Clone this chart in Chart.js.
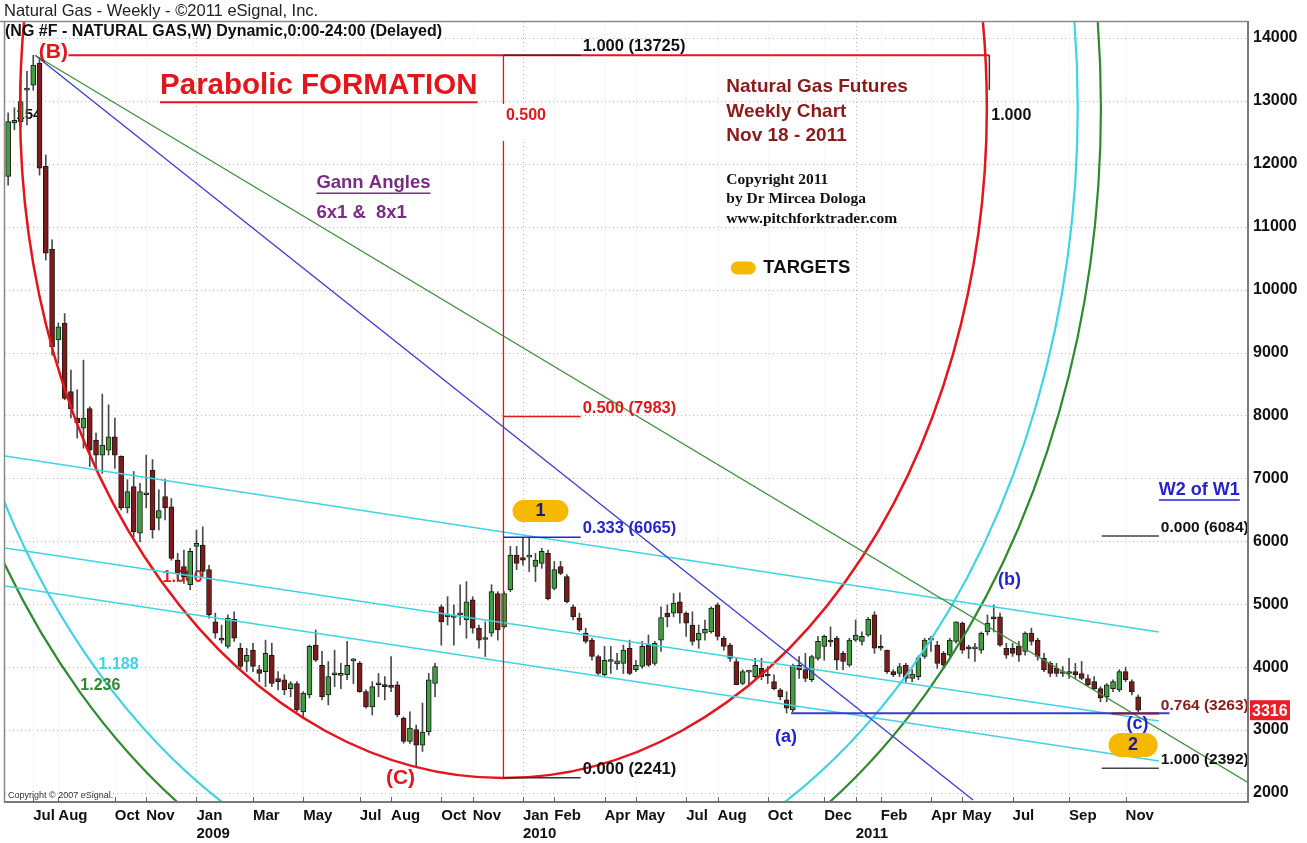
<!DOCTYPE html>
<html>
<head>
<meta charset="utf-8">
<script src="https://cdn.jsdelivr.net/npm/chart.js@4.4.0/dist/chart.umd.min.js"></script>
<style>
html,body{margin:0;padding:0;background:#fff;}
#wrap{width:1307px;height:843px;position:relative;}
</style>
</head>
<body>
<div id="wrap"><canvas id="c"></canvas></div>
<script>
// ---------- DATA ----------
const firstWeek = '2008-06-06';   // Friday of first weekly bar
const totalWeeks = 198;           // categories on the time axis (incl. blank space on right)

const open = [11800,12650,12670,13170,13250,13600,11960,10640,9200,9470,
8380,7960,7800,8110,7610,7370,7450,7660,7350,6530,
6870,6130,6740,7130,6370,6710,6550,5700,5600,5310,
5920,5940,5550,4720,4460,4330,4760,4300,4090,4270,
3960,3930,4190,3820,3800,3660,3740,3290,3560,4350,
4030,3560,3880,3870,3880,4100,4060,3610,3370,3720,
3720,3690,3720,3190,2820,3010,2760,2970,3740,4960,
4800,4790,4830,4750,5070,4620,4440,4540,5170,4640,
5230,5780,5740,5750,5600,5650,5810,5250,5600,5440,
4960,4780,4540,4430,4170,3880,4090,4050,4060,4300,
3960,4010,4350,4060,4430,4860,4860,5040,4860,4670,
4430,4540,4560,4990,4460,4350,4090,3740,3920,3850,
3980,3880,3770,3640,3480,3320,4030,3960,3800,4140,
4330,4410,4460,4220,4030,4430,4410,4510,4830,4330,
4270,3930,3900,4030,3820,3850,4170,4430,4350,4220,
4190,4410,4700,4300,4290,4270,4560,4780,4800,4300,
4300,4330,4250,4540,4430,4140,4060,3980,3930,3900,
3930,3900,3820,3770,3660,3530,3660,3640,3930,3770,
3530];
const high = [12810,12890,13330,13470,13725,13690,12140,10790,9470,9620,
8720,8410,8880,8140,7720,8340,8170,7960,7360,6980,
7110,6920,7370,7300,6820,6990,6680,5810,5860,5890,
6180,6230,5620,4860,4670,4830,4880,4380,4300,4380,
4030,4430,4380,3930,3880,3770,3770,3610,4350,4590,
4250,4090,4270,4060,4410,4140,4090,3640,3770,3900,
3850,4170,3770,3210,3290,3080,3430,3900,4060,4990,
5120,4990,5310,5360,5120,4670,4720,5310,5200,5200,
5920,5920,6050,6065,5810,5890,5860,5680,5680,5470,
4990,4860,4620,4460,4190,4330,4330,4220,4350,4430,
4110,4410,4510,4410,4960,4990,5170,5180,4880,4880,
4670,4750,4960,5020,4490,4380,4140,3960,3940,4140,
4140,4010,3880,3660,3610,4050,4170,4220,4190,4490,
4510,4640,4490,4250,4460,4750,4560,4790,4880,4510,
4270,3960,4060,4060,3960,4180,4460,4490,4410,4250,
4460,4720,4720,4350,4380,4560,4830,4990,4860,4380,
4380,4410,4560,4620,4460,4220,4090,4060,4010,4140,
4060,4090,3880,3850,3690,3740,3800,3960,4000,3800,
3560];
const low = [11660,12540,12590,12620,13170,11820,10470,8960,8830,8250,
7960,7640,7480,7190,7130,7080,7370,7160,6500,6450,
6070,5990,6530,6050,6180,6340,5700,5360,5330,5230,
5440,5440,4780,4460,4380,4300,4410,3960,3930,3930,
3770,3690,3690,3640,3560,3530,3290,3210,3510,4090,
3480,3400,3690,3660,3800,3740,3600,3350,3240,3530,
3480,3610,3210,2790,2790,2420,2660,2920,3530,4350,
4670,4350,4670,4460,4540,4300,4170,4490,4430,4620,
5200,5550,5620,5520,5360,5570,5070,5230,5470,5020,
4750,4570,4380,4110,3880,3850,3900,3960,3900,3880,
3930,3980,4010,4030,4250,4640,4800,4700,4490,4350,
4300,4430,4540,4430,4270,4090,3720,3720,3720,3820,
3800,3740,3640,3480,3270,3290,3820,3770,3770,4110,
4110,4330,3960,3960,4010,4410,4350,4490,4220,4270,
3900,3850,3850,3770,3770,3800,4140,4250,3980,3980,
4170,4380,4220,4140,4090,4220,4510,4560,4330,4140,
4170,4090,4190,4350,4110,3930,3850,3850,3850,3820,
3820,3800,3690,3640,3450,3450,3610,3610,3770,3560,
3290];
const close = [12670,12690,12990,13200,13570,11930,10580,9090,9410,8270,
8110,7880,7960,7450,7370,7530,7660,7370,6530,6790,
6150,6790,6760,6180,6490,6530,5730,5490,5440,5840,
5970,5520,4830,4540,4430,4780,4460,4010,4190,4010,
3900,4220,3740,3770,3640,3740,3320,3590,4330,4110,
3530,3850,3880,3880,4030,4120,3610,3370,3690,3720,
3690,3680,3240,2820,3030,2760,2970,3800,4010,4720,
4800,4800,4830,5040,4620,4430,4460,5200,4590,5170,
5780,5650,5700,5760,5700,5840,5090,5550,5490,5040,
4800,4590,4410,4170,3900,4110,4090,4100,4270,3900,
4030,4330,4030,4380,4790,4800,5020,4860,4700,4410,
4540,4600,4940,4490,4330,4140,3720,3930,3930,4030,
3850,3860,3660,3530,3350,4030,3960,3820,4170,4410,
4490,4400,4110,4090,4430,4510,4490,4760,4300,4300,
3930,3880,4010,3820,3890,4150,4430,4440,4060,4030,
4430,4720,4270,4290,4300,4540,4700,4770,4350,4190,
4220,4190,4540,4410,4170,3960,3900,3900,3900,3900,
3880,3820,3720,3660,3510,3720,3770,3930,3800,3610,
3316];

// month labels shown on the time axis (first weekly bar of each listed month)
const monthTicks = ['2008-07','2008-08','2008-10','2008-11','2009-01','2009-03','2009-05','2009-07','2009-08',
  '2009-10','2009-11','2010-01','2010-02','2010-04','2010-05','2010-07','2010-08','2010-10','2010-12',
  '2011-01','2011-02','2011-04','2011-05','2011-07','2011-09','2011-11'];
const yearOnlyTicks = ['2011-01'];
const monthNames = ['Jan','Feb','Mar','Apr','May','Jun','Jul','Aug','Sep','Oct','Nov','Dec'];
const priceTicks = [2000,3000,4000,5000,6000,7000,8000,9000,10000,11000,12000,13000,14000];

// drawing-tool anchors (week index, price)
const peakB = [4.3, 13725];
const gannEnds = [[153.7, 1889], [197.8, 2150]];
const channelLines = [[[-0.5, 7356], [183.3, 4559]], [[-0.5, 5894], [183.3, 3144]], [[-0.5, 5290], [183.3, 2509]]];
const ellipseCenter = [78.9, 12887];
const ellipseRadii = [77, 10649];
const ellipseRatios = [1, 1.188, 1.236];
const fibTimeWeeks = [78.9, 156.3];
const fibSpan = [78.9, 91.2];
const fibLevels = [['1.000', 13725], ['0.500', 7983], ['0.333', 6065], ['0.000', 2241]];
const w2Span = [174.2, 183.3];
const w2Levels = [['0.000', 6084], ['1.000', 2392]];
const retrace764 = ['0.764', 3263];
const lowA = [124.7, 185.0, 3267];
const lastPrice = 3316;

// ---------- BUILD ----------
const weeks = [];
{
  const d0 = new Date(firstWeek + 'T00:00:00Z').getTime();
  for (let i = 0; i < totalWeeks; i++) weeks.push(new Date(d0 + i * 7 * 86400000).toISOString().slice(0, 10));
}
const tickText = weeks.map(() => '');
const tickInfo = [];
monthTicks.forEach(m => {
  const i = weeks.findIndex(w => w.startsWith(m));
  if (i < 0) return;
  const mon = monthNames[+m.slice(5, 7) - 1];
  const isJan = m.slice(5, 7) === '01';
  const yearOnly = yearOnlyTicks.includes(m);
  tickText[i] = isJan ? [yearOnly ? '' : mon, m.slice(0, 4)] : mon;
  tickInfo.push({i, year: isJan});
});

const FONT = "'Liberation Sans', Arial, Helvetica, sans-serif";
const SERIF = "'Liberation Serif', 'Times New Roman', serif";
const UP = '#3f9f3f', DOWN = '#7d1a1a';
const RED = '#e3161b', BLUE = '#2424cc', CYAN = '#3fd3e3', GREEN = '#2f8a2f', GOLD = '#f6b800';

function txt(ctx, s, x, y, size, color, opt = {}) {
  ctx.font = (opt.weight || 'bold') + ' ' + size + 'px ' + (opt.family || FONT);
  ctx.fillStyle = color;
  ctx.textAlign = opt.align || 'left';
  ctx.textBaseline = opt.base || 'middle';
  ctx.fillText(s, x, y);
  const w = ctx.measureText(s).width;
  if (opt.underline) {
    const x0 = opt.align === 'center' ? x - w / 2 : x;
    ctx.strokeStyle = color; ctx.lineWidth = Math.max(1.5, size / 14);
    ctx.beginPath(); ctx.moveTo(x0, y + size * 0.55); ctx.lineTo(x0 + w, y + size * 0.55); ctx.stroke();
  }
  return w;
}
function pill(ctx, cx, cy, w, h) {
  const r = h / 2;
  ctx.fillStyle = GOLD;
  ctx.beginPath();
  ctx.moveTo(cx - w / 2 + r, cy - r);
  ctx.lineTo(cx + w / 2 - r, cy - r);
  ctx.arc(cx + w / 2 - r, cy, r, -Math.PI / 2, Math.PI / 2);
  ctx.lineTo(cx - w / 2 + r, cy + r);
  ctx.arc(cx - w / 2 + r, cy, r, Math.PI / 2, Math.PI * 1.5);
  ctx.closePath(); ctx.fill();
}
function seg(ctx, x1, y1, x2, y2, color, w) {
  ctx.strokeStyle = color; ctx.lineWidth = w;
  ctx.beginPath(); ctx.moveTo(x1, y1); ctx.lineTo(x2, y2); ctx.stroke();
}

const overlay = {
  id: 'overlay',
  beforeDatasetsDraw(chart) {
    const {ctx, chartArea: a, scales: {x, y}} = chart;
    ctx.save();
    ctx.lineWidth = 1; ctx.setLineDash([1, 3]);
    priceTicks.forEach(p => {
      const py = Math.round(y.getPixelForValue(p)) + 0.5;
      ctx.strokeStyle = '#b8b8b8';
      ctx.beginPath(); ctx.moveTo(a.left, py); ctx.lineTo(a.right, py); ctx.stroke();
    });
    tickInfo.forEach(t => {
      const px = Math.round(x.getPixelForValue(t.i)) + 0.5;
      ctx.strokeStyle = t.year ? '#b8b8b8' : '#e2e2e2';
      ctx.beginPath(); ctx.moveTo(px, a.top); ctx.lineTo(px, a.bottom); ctx.stroke();
    });
    ctx.setLineDash([]);
    // texts that sit under the bars
    txt(ctx, '154', x.getPixelForValue(1.3), y.getPixelForValue(12776), 15, '#111');
    txt(ctx, '1.000', x.getPixelForValue(24.6), y.getPixelForValue(5417), 16, RED);
    ctx.restore();
  },
  afterDatasetsDraw(chart) {
    const {ctx, chartArea: a, scales: {x, y}} = chart;
    const X = v => x.getPixelForValue(v), Y = v => y.getPixelForValue(v);
    ctx.save();
    ctx.beginPath(); ctx.rect(a.left, a.top, a.right - a.left, a.bottom - a.top); ctx.clip();

    // fib ellipses
    const cx = X(ellipseCenter[0]), cy = Y(ellipseCenter[1]);
    const rx = X(ellipseCenter[0] + ellipseRadii[0]) - cx, ry = Y(ellipseCenter[1] - ellipseRadii[1]) - cy;
    const ellCol = [RED, CYAN, GREEN], ellW = [2.5, 2.2, 2.2];
    ellipseRatios.forEach((r, k) => {
      ctx.strokeStyle = ellCol[k]; ctx.lineWidth = ellW[k];
      ctx.beginPath(); ctx.ellipse(cx, cy, rx * r, ry * r, 0, 0, Math.PI * 2); ctx.stroke();
    });

    // parallel channel lines
    channelLines.forEach(l => seg(ctx, X(l[0][0]), Y(l[0][1]), X(l[1][0]), Y(l[1][1]), CYAN, 1.6));

    // Gann angle lines from (B)
    seg(ctx, X(peakB[0]), Y(peakB[1]), X(gannEnds[0][0]), Y(gannEnds[0][1]), '#3a3ad6', 1.3);
    seg(ctx, X(peakB[0]), Y(peakB[1]), X(gannEnds[1][0]), Y(gannEnds[1][1]), '#3d8f3d', 1.3);

    // (B) horizontal
    seg(ctx, X(9.6), Y(fibLevels[0][1]), X(fibTimeWeeks[1]), Y(fibLevels[0][1]), RED, 2);
    // fib time verticals
    seg(ctx, X(fibTimeWeeks[0]), Y(fibLevels[0][1]), X(fibTimeWeeks[0]), Y(fibLevels[3][1]), RED, 1.3);
    seg(ctx, X(fibTimeWeeks[1]), Y(fibLevels[0][1]), X(fibTimeWeeks[1]), Y(13174), '#333', 1.5);

    // fib price levels
    const fibCols = ['#333', RED, BLUE, '#333'];
    fibLevels.forEach((f, k) => {
      const py = Y(f[1]);
      seg(ctx, X(fibSpan[0]), py, X(fibSpan[1]), py, fibCols[k], 1.5);
      txt(ctx, f[0] + ' (' + f[1] + ')', X(fibSpan[1]) + 2, py - 4, 16.5, fibCols[k] === '#333' ? '#111' : fibCols[k], {base: 'alphabetic'});
    });
    // 0.500 time label with white back
    {
      const lx = X(79.3), ly = Y(12760);
      ctx.fillStyle = '#fff'; ctx.fillRect(X(fibTimeWeeks[0]) - 3, ly - 12, 48, 37);
      txt(ctx, '0.500', lx, ly, 16, RED);
      txt(ctx, '1.000', X(156.6), ly, 16, '#111');
    }

    // (a) low line, 0.764 level, W2 fib
    seg(ctx, X(lowA[0]), Y(lowA[2]), X(lowA[1]), Y(lowA[2]), '#3a3ad6', 2);
    seg(ctx, X(175.8), Y(retrace764[1]), X(w2Span[1]), Y(retrace764[1]), '#8b1a1a', 2);
    w2Levels.forEach(f => seg(ctx, X(w2Span[0]), Y(f[1]), X(w2Span[1]), Y(f[1]), '#444', 1.5));

    // wave labels
    txt(ctx, '(B)', X(7.2), Y(13778), 21, RED, {align: 'center'});
    txt(ctx, '(C)', X(62.5), Y(2238), 21, RED, {align: 'center'});
    txt(ctx, '(a)', X(123.9), Y(2890), 18, BLUE, {align: 'center'});
    txt(ctx, '(b)', X(159.5), Y(5385), 18, BLUE, {align: 'center'});
    txt(ctx, '(c)', X(179.9), Y(3097), 18, BLUE, {align: 'center'});
    txt(ctx, '1.188', X(14.4), Y(4034), 16, CYAN);
    txt(ctx, '1.236', X(11.5), Y(3701), 16, GREEN);

    // target pills
    pill(ctx, X(84.8), Y(6482), 56, 22); txt(ctx, '1', X(84.8), Y(6482), 18, '#1a1a8c', {align: 'center'});
    pill(ctx, X(179.2), Y(2763), 49, 24); txt(ctx, '2', X(179.2), Y(2763), 18, '#1a1a8c', {align: 'center'});
    pill(ctx, X(117.1), Y(10344), 25, 13); txt(ctx, 'TARGETS', X(120.3), Y(10344), 18.5, '#111');

    // headline texts
    txt(ctx, 'Parabolic FORMATION', X(24.2), Y(13237), 29.5, RED, {underline: true});
    ['Natural Gas Futures', 'Weekly Chart', 'Nov 18 - 2011'].forEach((s, k) =>
      txt(ctx, s, X(114.4), Y([13221, 12824, 12442][k]), 19, '#8b1a1a'));
    ['Copyright 2011', 'by Dr Mircea Dologa', 'www.pitchforktrader.com'].forEach((s, k) =>
      txt(ctx, s, X(114.4), Y([11743, 11441, 11123][k]), 15.5, '#111', {family: SERIF}));
    txt(ctx, 'Gann Angles', X(49.1), Y(11695), 18.5, '#7a2c84', {underline: true});
    txt(ctx, '6x1 &  8x1', X(49.1), Y(11219), 18.5, '#7a2c84');
    txt(ctx, 'Copyright \u00a9 2007 eSignal.', a.left + 3, a.bottom - 6, 9, '#333', {weight: 'normal'});
    ctx.restore();

    // right-hand level labels (may touch the price axis)
    ctx.save();
    txt(ctx, retrace764[0] + ' (' + retrace764[1] + ')', X(w2Span[1]) + 2, Y(retrace764[1]) - 4, 15.5, '#8b1a1a', {base: 'alphabetic'});
    w2Levels.forEach(f => txt(ctx, f[0] + ' (' + f[1] + ')', X(w2Span[1]) + 2, Y(f[1]) - 4, 15.5, '#111', {base: 'alphabetic'}));
    txt(ctx, 'W2 of W1', X(183.3), Y(6816), 18, BLUE, {underline: true});
    ctx.restore();
  },
  afterDraw(chart) {
    const {ctx, chartArea: a, scales: {x, y}} = chart;
    ctx.save();
    // frame
    seg(ctx, 0, a.top - 0.5, a.right, a.top - 0.5, '#8a8a8a', 1.5);
    seg(ctx, a.left - 0.5, a.top, a.left - 0.5, a.bottom, '#8a8a8a', 1.5);
    seg(ctx, a.right, a.top - 1, a.right, a.bottom + 1, '#7a7a7a', 2);
    seg(ctx, a.left - 1, a.bottom, a.right + 1, a.bottom, '#7a7a7a', 2);
    tickInfo.forEach(t => {
      const px = Math.round(x.getPixelForValue(t.i)) + 0.5;
      seg(ctx, px, a.bottom - 5, px, a.bottom, '#666', 1);
    });
    // header
    txt(ctx, 'Natural Gas - Weekly - \u00a92011 eSignal, Inc.', 4, 11, 16.5, '#222', {weight: 'normal'});
    txt(ctx, '(NG #F - NATURAL GAS,W) Dynamic,0:00-24:00 (Delayed)', 5, 32, 16, '#111');
    // last price box
    const py = y.getPixelForValue(lastPrice);
    ctx.fillStyle = '#ee1c24';
    ctx.fillRect(a.right + 2, py - 10, 40, 20);
    txt(ctx, String(lastPrice), a.right + 4, py + 1, 16, '#fff');
    ctx.restore();
  }
};

new Chart(document.getElementById('c'), {
  type: 'bar',
  data: {
    labels: weeks,
    datasets: [
      {
        label: 'body',
        data: open.map((o, i) => [o, close[i]]),
        backgroundColor: open.map((o, i) => close[i] >= o ? UP : DOWN),
        borderColor: '#1a1a1a', borderWidth: 1, borderSkipped: false,
        barThickness: 5, minBarLength: 2, grouped: false, order: 0
      },
      {
        label: 'wick',
        data: low.map((l, i) => [l, high[i]]),
        backgroundColor: '#4a4a4a', borderWidth: 0,
        barThickness: 1, grouped: false, order: 1
      }
    ]
  },
  options: {
    responsive: true, maintainAspectRatio: false, animation: false,
    layout: {padding: {left: 5, top: 22, right: 0, bottom: 0}},
    plugins: {legend: {display: false}, tooltip: {enabled: false}},
    scales: {
      x: {
        type: 'category', offset: true,
        grid: {display: false, drawTicks: false}, border: {display: false},
        ticks: {autoSkip: false, maxRotation: 0, minRotation: 0, align: 'start', padding: 5,
          color: '#111', font: {family: FONT, size: 15, weight: 'bold'},
          callback: (v, i) => tickText[i]},
        afterFit: s => { s.height = 41; }
      },
      y: {
        position: 'right', min: 1857, max: 14254, beginAtZero: false,
        grid: {display: false, drawTicks: false}, border: {display: false},
        ticks: {padding: 5, color: '#111',
          font: {family: FONT, size: 16, weight: 'bold'}, callback: v => String(v)},
        afterBuildTicks: s => { s.ticks = priceTicks.map(v => ({value: v})); },
        afterFit: s => { s.width = 59; }
      }
    }
  },
  plugins: [overlay]
});
</script>
</body>
</html>
